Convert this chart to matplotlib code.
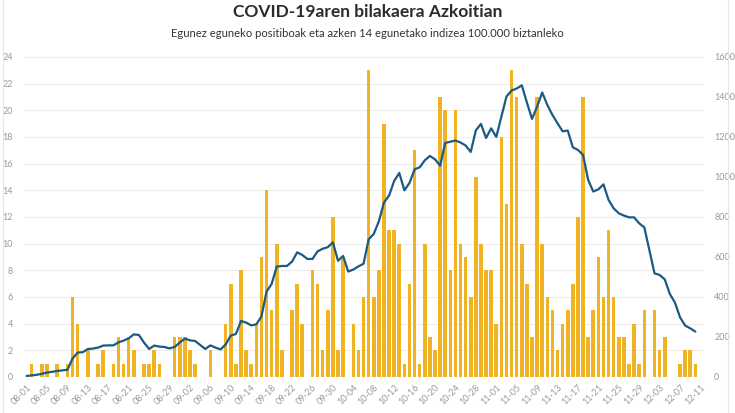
#!/usr/bin/env python3
"""
COVID-19aren bilakaera Azkoitian - positiboak eta 14 eguneko intzidentzia
"""
import pandas as pd
import numpy as np
import matplotlib
matplotlib.use('Agg')
import matplotlib.pyplot as plt

# Egunak (08-01 .. 12-11)
egunak = pd.date_range('2020-08-01', '2020-12-11', freq='D').strftime('%m-%d').tolist()

# Egunez eguneko positiboak
positiboak = [
    0, 1, 0, 1, 1, 0, 1, 0, 1, 6, 4, 0, 2, 0, 1, 2, 0, 1, 3, 1,
    3, 2, 0, 1, 1, 2, 1, 0, 0, 3, 3, 3, 2, 1, 0, 0, 2, 0, 0, 4,
    7, 1, 8, 2, 1, 4, 9, 14, 5, 10, 2, 0, 5, 7, 4, 0, 8, 7, 2, 5,
    12, 2, 9, 0, 4, 2, 6, 23, 6, 8, 19, 11, 11, 10, 1, 7, 17, 1, 10, 3,
    2, 21, 20, 8, 20, 10, 9, 6, 15, 10, 8, 8, 4, 18, 13, 23, 21, 10, 7, 3,
    21, 10, 6, 5, 2, 4, 5, 7, 12, 21, 3, 5, 9, 6, 11, 6, 3, 3, 1, 4,
    1, 5, 0, 5, 2, 3, 0, 0, 1, 2, 2, 1, 0,
]

# Azken 14 egunetako intzidentzia 100.000 biztanleko
intzidentzia = [
    5, 8, 11, 16, 22, 26, 30, 33, 36, 92, 122, 124, 140, 142, 147, 157, 158, 158, 173, 182,
    193, 213, 210, 172, 140, 157, 152, 150, 143, 150, 172, 192, 183, 180, 160, 140, 158, 147, 138, 163,
    207, 215, 280, 272, 258, 263, 302, 427, 465, 552, 555, 555, 577, 623, 610, 590, 590, 628, 641, 649,
    673, 581, 605, 527, 537, 553, 566, 688, 715, 778, 872, 907, 980, 1020, 933, 970, 1038, 1048, 1083, 1105,
    1088, 1056, 1170, 1176, 1182, 1172, 1157, 1125, 1233, 1265, 1195, 1243, 1200, 1300, 1402, 1432, 1442, 1458, 1372, 1290,
    1352, 1422, 1360, 1310, 1268, 1228, 1232, 1148, 1135, 1110, 985, 927, 938, 963, 885, 843, 818, 807, 798, 798,
    768, 748, 632, 518, 510, 488, 415, 372, 298, 257, 243, 227, np.nan,
]

ezker_tickak = list(range(0, 25, 2))
eskuin_tickak = list(range(0, 1601, 200))

HORIA = '#f0b323'
URDINA = '#1b5a85'
GRISA = '#9a9a9a'


def gerar_grafico():
    fig = plt.figure(figsize=(7.35, 4.13), dpi=100)
    plt.rcParams['font.family'] = ['Lato', 'DejaVu Sans']

    ax = fig.add_axes([0.0327, 0.0872, 0.9238, 0.775])
    x = np.arange(len(egunak))

    ax.bar(x, positiboak, width=0.7, color=HORIA, zorder=2)
    ax.set_xlim(-0.5, len(egunak) - 0.5)
    ax.set_ylim(0, 24)
    ax.set_yticks(ezker_tickak)
    ax.grid(axis='y', color='#ededed', linewidth=0.8, zorder=0)
    ax.set_axisbelow(True)

    ax2 = ax.twinx()
    ax2.plot(x, intzidentzia, color=URDINA, linewidth=1.6, zorder=3,
             solid_joinstyle='round', solid_capstyle='round')
    ax2.set_ylim(0, 1600)
    ax2.set_yticks(eskuin_tickak)

    ax.set_xticks(x[::4])
    ax.set_xticklabels(egunak[::4], rotation=45, ha='right', va='top',
                       rotation_mode='anchor')

    for a in (ax, ax2):
        for s in a.spines.values():
            s.set_visible(False)
        a.tick_params(length=0, labelsize=6.5, colors=GRISA)
    ax.tick_params(axis='y', pad=8)
    ax.tick_params(axis='x', pad=4)
    ax2.tick_params(axis='y', pad=8)

    fig.text(0.5, 0.972, 'COVID-19aren bilakaera Azkoitian', ha='center', va='center',
             fontsize=12.5, fontweight='bold', color='#2b2b2b')
    fig.text(0.5, 0.92, 'Egunez eguneko positiboak eta azken 14 egunetako indizea 100.000 biztanleko',
             ha='center', va='center', fontsize=8.1, color='#333333')

    # markoa
    fig.add_artist(plt.Line2D([0.004, 0.004], [0, 1], color='#e6e6e6', linewidth=0.8))
    fig.add_artist(plt.Line2D([0.991, 0.991], [0, 1], color='#e6e6e6', linewidth=0.8))

    fig.savefig('out.png', dpi=100)
    plt.close(fig)


if __name__ == "__main__":
    gerar_grafico()
